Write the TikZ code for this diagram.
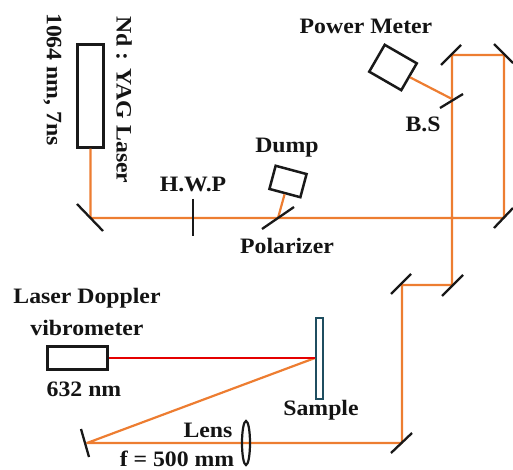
\documentclass[tikz,border=0pt]{standalone}
\usepackage{fontspec}
\usetikzlibrary{shapes.geometric}
\setmainfont{Liberation Serif}[BoldFont={Liberation Serif Bold},BoldFeatures={FakeStretch=1.08}]
\definecolor{beam}{RGB}{237,125,49}
\definecolor{samp}{RGB}{31,78,96}
\tikzset{
 lbl/.style={font=\fontsize{22}{24}\selectfont\bfseries,inner sep=0pt,text=black!92},
 box/.style={draw=black!90,line width=2.5pt,fill=white},
 mir/.style={draw=black!90,line width=2.3pt},
 ray/.style={draw=beam,line width=2.2pt,line join=round},
 red/.style={draw=red!90!black,line width=2.4pt}
}
\begin{document}
\begin{tikzpicture}[x=1pt,y=-1pt]
\useasboundingbox (0,0) rectangle (513,470);
% beam vertices
\coordinate (m1) at (90.5,218);
\coordinate (pol) at (278,218);
\coordinate (m2) at (504,218);
\coordinate (m3) at (504,55);
\coordinate (m4) at (452,55);
\coordinate (bs) at (452,99);
\coordinate (m5) at (452,285);
\coordinate (m6) at (402,285);
\coordinate (m7) at (402,443);
\coordinate (m8) at (87,443);
\coordinate (sp) at (315,358);
% laser
\node[box,minimum width=26pt,minimum height=103pt,inner sep=0pt] (laser) at (90.5,96) {};
\node[box,minimum width=60pt,minimum height=23pt,inner sep=0pt] (ldv) at (77.5,358) {};
\node[draw=samp,line width=2pt,fill=white,minimum width=7pt,minimum height=81pt,inner sep=0pt] (sample) at (319.5,358) {};
% beams
\draw[ray] (laser.south) -- (m1) -- (m2) -- (m3) -- (m4) -- (m5) -- (m6) -- (m7) -- (m8) -- (sp);
\draw[red] (ldv.east) -- (sp);
% dump and power meter
\node[box,rotate=-15,minimum width=32pt,minimum height=24pt,inner sep=0pt] (dump) at (288,181.5) {};
\node[box,rotate=-30,minimum width=37pt,minimum height=31pt,inner sep=0pt] (pm) at (393,67.5) {};
\draw[ray] (pol) -- (dump.south);
\draw[ray] (bs) -- (pm.east);
% mirrors
\draw[mir] (77,204) -- (103,231);
\draw[mir] (193,199) -- (193,236);
\draw[mir] (262,229) -- (294,207);
\draw[mir] (441,65) -- (461,45);
\draw[mir] (440,108) -- (463,94);
\draw[mir] (494,44) -- (513,63);
\draw[mir] (494,228) -- (513,208);
\draw[mir] (391,294) -- (411,274);
\draw[mir] (442,296) -- (463,275);
\draw[mir] (391,453) -- (412,433);
\draw[mir] (81,429) -- (89,457);
\node[draw=black!90,line width=2.2pt,ellipse,minimum width=8pt,minimum height=44pt,inner sep=0pt] (lens) at (246,443) {};
% labels
\node[lbl,rotate=-90] (t1) at (124,100) {Nd : YAG Laser};
\node[lbl,rotate=-90] (t2) at (52.5,79.5) {1064 nm, 7ns};
\node[lbl] (t3) at (193,184) {H.W.P};
\node[lbl] (t4) at (287,148) {Dump};
\node[lbl] (t5) at (287,246) {Polarizer};
\node[lbl] (t6) at (366,26) {Power Meter};
\node[lbl] (t7) at (423,124) {B.S};
\node[lbl] (t8) at (87,298) {Laser Doppler};
\node[lbl] (t9) at (87,328) {vibrometer};
\node[lbl] (t10) at (84,389) {632 nm};
\node[lbl] (t11) at (321,410) {Sample};
\node[lbl] (t12) at (208,430) {Lens};
\node[lbl] (t13) at (177,458.5) {f = 500 mm};
\end{tikzpicture}
\end{document}
